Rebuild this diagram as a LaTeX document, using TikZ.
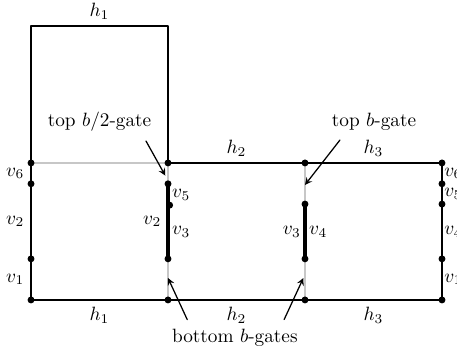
\documentclass[tikz,border=0pt]{standalone}
\usetikzlibrary{calc}
\begin{document}
\begin{tikzpicture}[line join=round,line cap=round,>=stealth,
	edge/.style={line width=0.65pt},
	gray edge/.style={line width=0.65pt,black!22},
	gate/.style={line width=1.8pt}]
	\useasboundingbox (-0.566,-0.985) rectangle (7.774,5.474);
	\coordinate (A) at (0,0);
	\coordinate (B) at (2.5,0);
	\coordinate (C) at (5,0);
	\coordinate (D) at (7.5,0);
	\coordinate (A') at (0,2.5);
	\coordinate (B') at (2.5,2.5);
	\coordinate (C') at (5,2.5);
	\coordinate (D') at (7.5,2.5);
	\coordinate (E) at (0,5);
	\coordinate (F) at (2.5,5);
	
	\coordinate (L1) at (0,0.75);
	\coordinate (L2) at (0,2.12);
	\coordinate (M1) at (2.5,0.75);
	\coordinate (M2) at (2.53,1.73);
	\coordinate (M3) at (2.5,2.12);
	\coordinate (N1) at (5,0.75);
	\coordinate (N2) at (5,1.75);
	\coordinate (R1) at (7.5,0.75);
	\coordinate (R2) at (7.5,1.75);
	\coordinate (R3) at (7.5,2.12);
	
	\draw[gray edge] (A') -- (B');
	\draw[gray edge] (B) -- (M1);
	\draw[gray edge] (M3) -- (B');
	\draw[gray edge] (C) -- (N1);
	\draw[gray edge] (N2) -- (C');
	
	\draw[edge] (A') -- (E) -- (F) -- (B');
	\draw[edge] (B') -- (D') -- (D) -- (A) -- (A');
	\draw[gate] (M1) -- (M3);
	\draw[gate] (N1) -- (N2);
	
	\foreach \p in {A,B,C,D,A',B',C',D',L1,L2,M1,M2,M3,N1,N2,R1,R2,R3}
	\fill (\p) circle (1.8pt);
	
	\path (E) -- (F) node[midway,above] {$h_1$};
	\path (A) -- (B) node[midway,below] {$h_1$};
	\path (B) -- (C) node[midway,below] {$h_2$};
	\path (C) -- (D) node[midway,below] {$h_3$};
	\path (B') -- (C') node[midway,above] {$h_2$};
	\path (C') -- (D') node[midway,above] {$h_3$};
	
	\path (A') -- (L2) node[midway,left] {$v_6$};
	\path (L2) -- (L1) node[midway,left] {$v_2$};
	\path (L1) -- (A) node[midway,left] {$v_1$};
	\path (M3) -- (2.5,1.73) node[midway,right,inner sep=2pt] {$v_5$};
	\path (M3) -- (M1) node[midway,left] {$v_2$};
	\path (2.5,1.73) -- (M1) node[midway,right,inner sep=2pt] {$v_3$};
	\path (N2) -- (N1) node[midway,left,inner sep=2pt] {$v_3$};
	\path (N2) -- (N1) node[midway,right,inner sep=2pt] {$v_4$};
	\path (D') -- (R3) node[midway,right,inner sep=1pt] {$v_6$};
	\path (R3) -- (R2) node[midway,right,inner sep=1pt] {$v_5$};
	\path (R2) -- (R1) node[midway,right,inner sep=1pt] {$v_4$};
	\path (R1) -- (D) node[midway,right,inner sep=1pt] {$v_1$};
	
	% gate labels
	\node (tophalf) at (1.25,3.25) {top $b/2$-gate};
	\node (topgate) at (6.26,3.25) {top $b$-gate};
	\node (botgates) at (3.72,-0.69) {bottom $b$-gates};
	\coordinate (g1) at (2.45,2.27);
	\coordinate (g2) at (5.0,2.1);
	\coordinate (g3) at (2.5,0.4);
	\coordinate (g4) at (4.97,0.4);
	\draw[->,edge] ([xshift=-0.22cm,yshift=-0.05cm]tophalf.south east) -- (g1);
	\draw[->,edge] ([xshift=0.27cm,yshift=-0.05cm]topgate.south west) -- (g2);
	\draw[->,edge] ([xshift=0.4cm,yshift=0.05cm]botgates.north west) -- (g3);
	\draw[->,edge] ([xshift=-0.37cm,yshift=0.05cm]botgates.north east) -- (g4);
\end{tikzpicture}
\end{document}
